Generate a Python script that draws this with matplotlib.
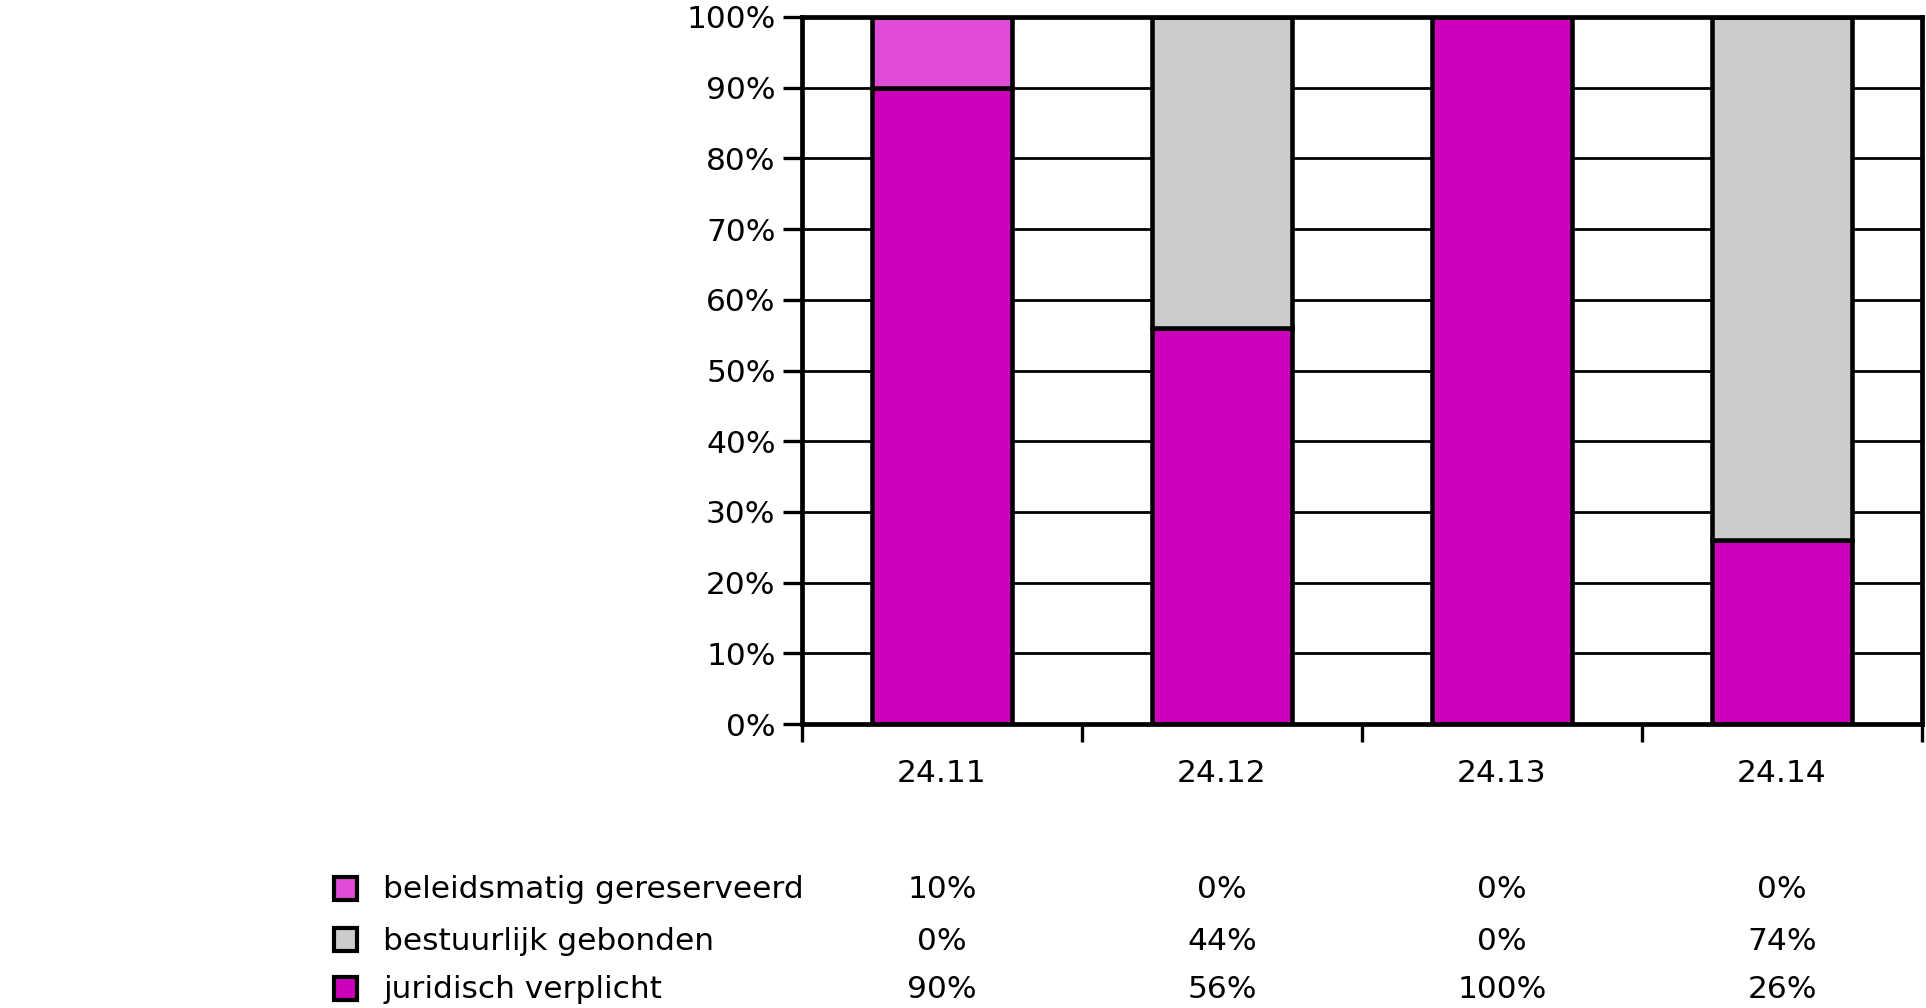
import matplotlib
matplotlib.use("Agg")
import matplotlib.pyplot as plt
from matplotlib.patches import Rectangle
from matplotlib.transforms import blended_transform_factory
import numpy as np

plt.rcParams['font.family'] = ['DejaVu Sans']

# data
categories = ["24.11", "24.12", "24.13", "24.14"]
series_names = ["beleidsmatig gereserveerd", "bestuurlijk gebonden", "juridisch verplicht"]
beleidsmatig = [10, 0, 0, 0]
bestuurlijk = [0, 44, 0, 74]
juridisch = [90, 56, 100, 26]
y_ticks = [0, 10, 20, 30, 40, 50, 60, 70, 80, 90, 100]
y_labels = ["%d%%" % v for v in y_ticks]

col_bel = "#E04BD8"
col_best = "#CCCCCC"
col_jur = "#CC00BB"
fs = 22.5

fig = plt.figure(figsize=(19.26, 10.08), dpi=100)
ax = fig.add_axes([802 / 1926, 1 - 724 / 1008, 1120 / 1926, 707 / 1008])

x = np.arange(len(categories))
bottom = np.zeros(len(categories))
# stack from the bottom: juridisch, bestuurlijk, beleidsmatig
for vals, c in [(juridisch, col_jur), (bestuurlijk, col_best), (beleidsmatig, col_bel)]:
    vals = np.array(vals, dtype=float)
    m = vals > 0
    ax.bar(x[m], vals[m], bottom=bottom[m], width=0.5, color=c,
           edgecolor="black", linewidth=3.3, zorder=3)
    bottom = bottom + vals

ax.set_xlim(-0.5, len(categories) - 0.5)
ax.set_ylim(0, 100)
ax.set_yticks(y_ticks)
ax.set_yticklabels(y_labels, fontsize=fs)
ax.yaxis.grid(True, color="black", linewidth=2)
ax.set_axisbelow(True)

ax.set_xticks(np.arange(-0.5, len(categories)))
ax.set_xticklabels([])
ax.set_xticks(x, minor=True)
ax.set_xticklabels(categories, minor=True, fontsize=fs)
ax.tick_params(axis="x", which="major", direction="out", length=13, width=2.4)
ax.tick_params(axis="x", which="minor", length=0, pad=25.5)
ax.tick_params(axis="y", direction="out", length=14, width=2.4, pad=5)
for s in ax.spines.values():
    s.set_linewidth(3.4)
    s.set_zorder(4)

# table below the chart
rows = [beleidsmatig, bestuurlijk, juridisch]
colors = [col_bel, col_best, col_jur]
row_y = [888, 939, 988]
tr = blended_transform_factory(ax.transData, fig.transFigure)
for name, vals, c, yp in zip(series_names, rows, colors, row_y):
    fy = 1 - yp / 1008
    ty = 1 - (yp + 2) / 1008
    fig.patches.append(Rectangle((334 / 1926, fy - 12 / 1008), 23 / 1926, 23 / 1008,
                                 transform=fig.transFigure, facecolor=c,
                                 edgecolor="black", linewidth=3))
    fig.text(383 / 1926, ty, name, fontsize=fs, va="center", ha="left")
    for xi, v in zip(x, vals):
        ax.text(xi, ty, "%d%%" % v, fontsize=fs, ha="center", va="center",
                transform=tr, clip_on=False)

fig.savefig("out.png", dpi=100)
